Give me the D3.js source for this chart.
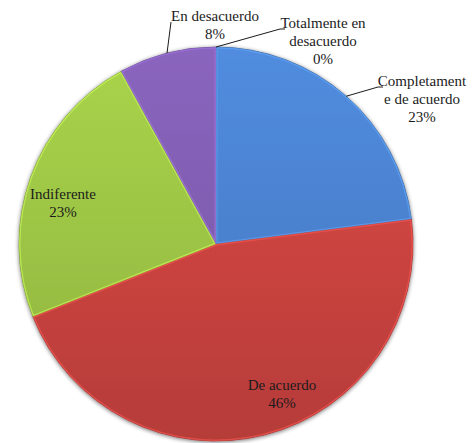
<!DOCTYPE html>
<html>
<head>
<meta charset="utf-8">
<script src="https://cdn.jsdelivr.net/npm/d3@7"></script>
<style>
  html, body { margin: 0; padding: 0; background: #fff; }
  svg { display: block; }
</style>
</head>
<body>
<svg id="chart" width="476" height="443"></svg>
<script>
// ---- data ----
const categories = ["Completamente de acuerdo", "De acuerdo", "Indiferente", "En desacuerdo", "Totalmente en desacuerdo"];
const values = [23, 46, 23, 8, 0];
const colors = ["#4a80cc", "#c9433f", "#9bc244", "#7e5cae", "#3d6fb5"];
// label text lines (as shown in the chart)
const labelLines = [
  ["Completament", "e de acuerdo", "23%"],
  ["De acuerdo", "46%"],
  ["Indiferente", "23%"],
  ["En desacuerdo", "8%"],
  ["Totalmente en", "desacuerdo", "0%"]
];

// ---- layout ----
const cx = 216, cy = 244, R = 197;
const lineH = 18;
const FONT = "Liberation Serif";
// label anchor (center of first text line) relative to pie center, and leader elbow
const labelLayout = [
  { dx: 206, dy: -161, leader: true, elbow: [162, -157], end: [167, -157] },
  { dx: 66, dy: 143, leader: false },
  { dx: -153, dy: -48, leader: false },
  { dx: -1, dy: -226, leader: true, elbow: [-45, -222], end: [-45, -222] },
  { dx: 107, dy: -219, leader: true, elbow: [64, -215], end: [69, -215] }
];

const svg = d3.select("#chart");
const defs = svg.append("defs");

// soft shadow
const f = defs.append("filter").attr("id", "shadow")
  .attr("x", "-10%").attr("y", "-10%").attr("width", "120%").attr("height", "120%");
f.append("feGaussianBlur").attr("in", "SourceAlpha").attr("stdDeviation", 2).attr("result", "b");
f.append("feOffset").attr("in", "b").attr("dx", 0).attr("dy", 1).attr("result", "o");
f.append("feComponentTransfer").attr("in", "o").attr("result", "s")
  .append("feFuncA").attr("type", "linear").attr("slope", 0.55);
const m = f.append("feMerge");
m.append("feMergeNode").attr("in", "s");
m.append("feMergeNode").attr("in", "SourceGraphic");

// vertical gradients per slice
colors.forEach((c, i) => {
  const g = defs.append("linearGradient").attr("id", "grad" + i)
    .attr("gradientUnits", "userSpaceOnUse")
    .attr("x1", 0).attr("y1", -R).attr("x2", 0).attr("y2", R);
  g.append("stop").attr("offset", "0%").attr("stop-color", d3.color(c).brighter(0.25));
  g.append("stop").attr("offset", "55%").attr("stop-color", c);
  g.append("stop").attr("offset", "100%").attr("stop-color", d3.color(c).darker(0.3));
});

const pie = d3.pie().sort(null).value(d => d.value);
const data = categories.map((c, i) => ({ name: c, value: values[i], i }));
const arcs = pie(data);
const arc = d3.arc().innerRadius(0).outerRadius(R);

const g = svg.append("g").attr("transform", `translate(${cx},${cy})`);

const pieG = g.append("g").attr("filter", "url(#shadow)");
pieG.selectAll("path.slice")
  .data(arcs.filter(a => a.data.value > 0))
  .join("path")
  .attr("class", "slice")
  .attr("d", arc)
  .attr("fill", d => `url(#grad${d.data.i})`)
  .attr("stroke", d => d3.color(colors[d.data.i]).darker(0.9))
  .attr("stroke-width", 0.8)
  .attr("stroke-linejoin", "round");

// bevel highlight inside each slice
const clip = defs.selectAll("clipPath.sc")
  .data(arcs.filter(a => a.data.value > 0))
  .join("clipPath").attr("class", "sc").attr("id", d => "clip" + d.data.i);
clip.append("path").attr("d", arc);
g.append("g").selectAll("path.hl")
  .data(arcs.filter(a => a.data.value > 0))
  .join("path")
  .attr("class", "hl")
  .attr("d", arc)
  .attr("clip-path", d => `url(#clip${d.data.i})`)
  .attr("fill", "none")
  .attr("stroke", d => d3.color(colors[d.data.i]).brighter(0.8))
  .attr("stroke-opacity", 0.6)
  .attr("stroke-width", 3);

// leader lines
arcs.forEach((a, i) => {
  const L = labelLayout[i];
  if (!L.leader) return;
  const mid = (a.startAngle + a.endAngle) / 2;
  const p0 = [Math.sin(mid) * R, -Math.cos(mid) * R];
  g.append("polyline")
    .attr("points", [p0, L.elbow, L.end].map(p => p.join(",")).join(" "))
    .attr("fill", "none")
    .attr("stroke", "#1b1b1b")
    .attr("stroke-width", 1);
});

// labels
arcs.forEach((a, i) => {
  const L = labelLayout[i];
  const t = g.append("text")
    .attr("text-anchor", "middle")
    .attr("font-family", FONT)
    .attr("font-size", 15)
    .attr("fill", "#1b1b1b")
    .attr("x", L.dx).attr("y", L.dy)
    .attr("dominant-baseline", "middle");
  labelLines[i].forEach((ln, k) => {
    t.append("tspan").attr("x", L.dx).attr("dy", k === 0 ? 0 : lineH).text(ln);
  });
});
</script>
</body>
</html>
